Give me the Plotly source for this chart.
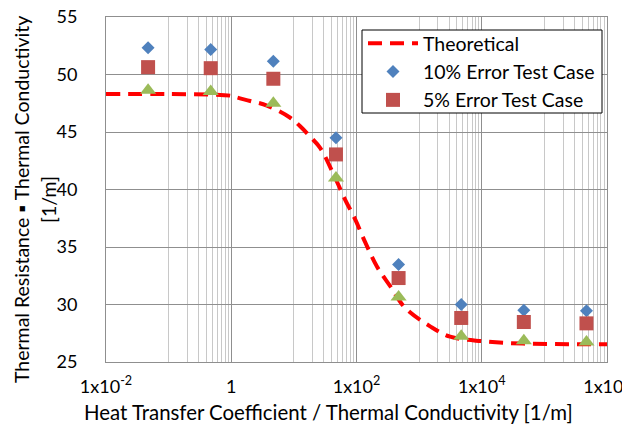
import plotly.graph_objects as go

# ---- data ----
x_points = [0.047, 0.47, 4.7, 47, 470, 4700, 47000, 470000]
err10 = [52.33, 52.18, 51.16, 44.5, 33.47, 29.99, 29.49, 29.46]
err5 = [50.64, 50.55, 49.63, 43.05, 32.3, 28.83, 28.48, 28.36]
err_other = [48.63, 48.52, 47.5, 41.0, 30.66, 27.23, 26.85, 26.74]

x_theory = [0.01, 0.1, 1.0, 1.23, 2.01, 3.71, 8.75, 12.6, 18.2, 26.4, 45.7, 66, 95.3,
            138, 212, 345, 599, 1500, 3130, 10500, 45800, 1000000]
y_theory = [48.3, 48.3, 48.15, 48.0, 47.7, 47.3, 46.24, 45.5, 44.6, 43.6, 41.0, 39.1, 37.4,
            35.4, 33.3, 31.6, 29.7, 28.1, 27.2, 26.8, 26.6, 26.55]

x_tickvals = [1e-2, 1, 1e2, 1e4, 1e6]
x_ticktext = ["1x10<sup>-2</sup>", "1", "1x10<sup>2</sup>", "1x10<sup>4</sup>", "1x10<sup>6</sup>"]
y_tickvals = [25, 30, 35, 40, 45, 50, 55]

minor_vals = [j * 10 ** (k + 1) for k in (-2, 0, 2, 4) for j in range(1, 10)]

FONT = "Lato"
major_grid = "#8f8f8f"
minor_grid = "#c8c8c8"

# page is shown with an 8px body margin; plot area on page: x 106..607, y 17..362
PL, PR, PT, PB = 106, 607, 17, 362


def px(xp):
    return (xp - PL) / (PR - PL)


def py(yp):
    return (PB - yp) / (PB - PT)


fig = go.Figure()
fig.add_trace(go.Scatter(
    x=x_theory, y=y_theory, mode="lines", name="Theoretical",
    line=dict(color="#ff0000", width=4, dash="14px,8px", shape="spline")))
fig.add_trace(go.Scatter(
    x=x_points, y=err10, mode="markers", name="10% Error Test Case",
    marker=dict(symbol="diamond", size=10, color="#4f81bd")))
fig.add_trace(go.Scatter(
    x=x_points, y=err5, mode="markers", name="5% Error Test Case",
    marker=dict(symbol="square", size=14, color="#c0504d")))
fig.add_trace(go.Scatter(
    x=x_points, y=err_other, mode="markers", name="Test Case",
    marker=dict(symbol="triangle-up", size=14, color="#9bbb59"), showlegend=False))

fig.update_layout(
    width=622, height=421,
    margin=dict(l=PL - 8, r=622 - (PR - 8), t=PT - 8, b=421 - (PB - 8), autoexpand=False),
    paper_bgcolor="white", plot_bgcolor="white",
    font=dict(family=FONT, size=18, color="#000000"),
    showlegend=True,
    legend=dict(
        x=px(363), y=py(24), xanchor="left", yanchor="top",
        bgcolor="rgba(0,0,0,0)", borderwidth=0,
        font=dict(family=FONT, size=19.5, color="#000000"),
        itemwidth=50,
    ),
    shapes=[
        dict(type="rect", xref="paper", yref="paper",
             x0=px(362), x1=px(602), y0=py(113), y1=py(30),
             fillcolor="white", line=dict(color="#000000", width=1), layer="above"),
    ],
    xaxis=dict(
        type="log", range=[-2, 6], automargin=False,
        tickmode="array", tickvals=x_tickvals, ticktext=x_ticktext,
        showgrid=True, gridcolor=major_grid, gridwidth=1,
        minor=dict(tickmode="array", tickvals=minor_vals, showgrid=True,
                   gridcolor=minor_grid, gridwidth=1, ticks=""),
        showline=True, linecolor=major_grid, linewidth=1, mirror=True,
        ticks="outside", ticklen=8, tickcolor="rgba(0,0,0,0)",
        zeroline=False, ticklabeloverflow="allow",
        tickfont=dict(family=FONT, size=18, color="#000000"),
    ),
    yaxis=dict(
        range=[25, 55], tickmode="array", tickvals=y_tickvals, automargin=False,
        showgrid=True, gridcolor=major_grid, gridwidth=1,
        showline=True, linecolor=major_grid, linewidth=1, mirror=True,
        ticks="outside", ticklen=24, tickcolor="rgba(0,0,0,0)",
        zeroline=False, ticklabeloverflow="allow",
        tickfont=dict(family=FONT, size=18, color="#000000"),
    ),
    annotations=[
        dict(text="Heat Transfer Coefficient / Thermal Conductivity [1/m]",
             xref="paper", yref="paper", x=px(328), y=py(412),
             xanchor="center", yanchor="middle", showarrow=False,
             font=dict(family=FONT, size=20.4, color="#000000")),
        dict(text="Thermal Resistance \u25aa Thermal Conductivity",
             xref="paper", yref="paper", x=px(21), y=py(200),
             xanchor="center", yanchor="middle", textangle=-90, showarrow=False,
             font=dict(family=FONT, size=19.5, color="#000000")),
        dict(text="[1/m]",
             xref="paper", yref="paper", x=px(48), y=py(200),
             xanchor="center", yanchor="middle", textangle=-90, showarrow=False,
             font=dict(family=FONT, size=19.5, color="#000000")),
    ],
)

fig.write_html("out.html")
